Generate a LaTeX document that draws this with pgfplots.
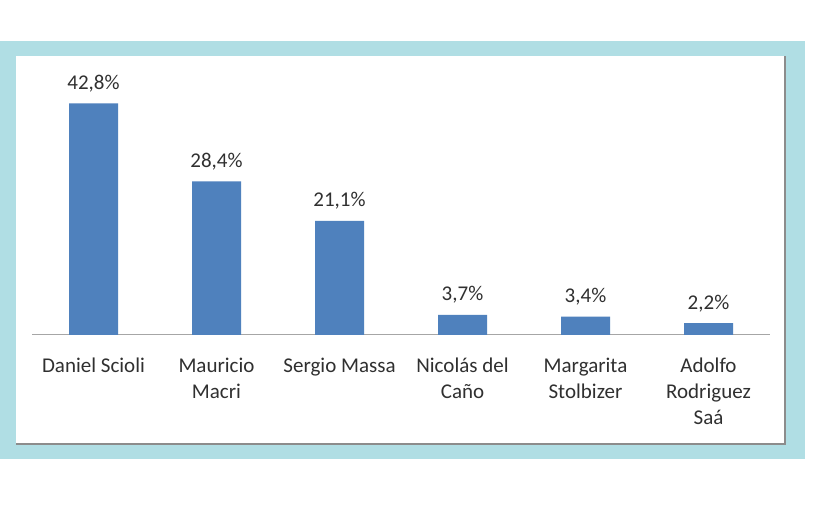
\documentclass[border=0pt]{standalone}
\usepackage{fontspec}
\setmainfont{Carlito}
\usepackage{pgfplots}
\pgfplotsset{compat=1.18}
\definecolor{barblue}{HTML}{4F81BD}
\definecolor{frameblue}{HTML}{B0DEE4}
\definecolor{txt}{HTML}{303030}
\begin{document}
\begin{tikzpicture}
\path[use as bounding box] (0,0) rectangle (818bp,509bp);
\fill[frameblue] (0,50bp) rectangle (805bp,468bp);
\fill[white] (16bp,65bp) rectangle (785bp,453bp);
\draw[black!45, line width=1.5bp] (16bp,65bp) -- (785bp,65bp) -- (785bp,453bp);
\begin{axis}[
  at={(32bp,174bp)}, anchor=south west,
  scale only axis, width=738bp, height=270.5bp,
  xmin=-0.5, xmax=5.5, ymin=0, ymax=50,
  axis x line*=bottom, axis y line=none,
  x axis line style={draw=black!35, line width=1bp},
  xtick={0,1,2,3,4,5}, major tick length=0pt,
  xticklabels={{\strut Daniel Scioli},{\strut Mauricio\\Macri},{\strut Sergio Massa},{\strut Nicolás del\\Caño},{\strut Margarita\\Stolbizer},{\strut Adolfo\\Rodriguez\\Saá}},
  ytick=\empty,
  ybar, bar width=49bp,
  nodes near coords={\pgfmathprintnumber[fixed,fixed zerofill,precision=1,use comma,assume math mode=true]{\pgfplotspointmeta}\%},
  nodes near coords style={anchor=base, inner sep=0pt, yshift=14bp, font=\fontsize{21bp}{26bp}\selectfont, text=txt},
  xticklabel style={anchor=north, inner sep=0pt, yshift=-18.8bp, align=center, font=\fontsize{21bp}{26bp}\selectfont, text=txt},
  clip=false
]
\addplot[fill=barblue, draw=none] coordinates {(0,42.8) (1,28.4) (2,21.1) (3,3.7) (4,3.4) (5,2.2)};
\end{axis}
\end{tikzpicture}
\end{document}
